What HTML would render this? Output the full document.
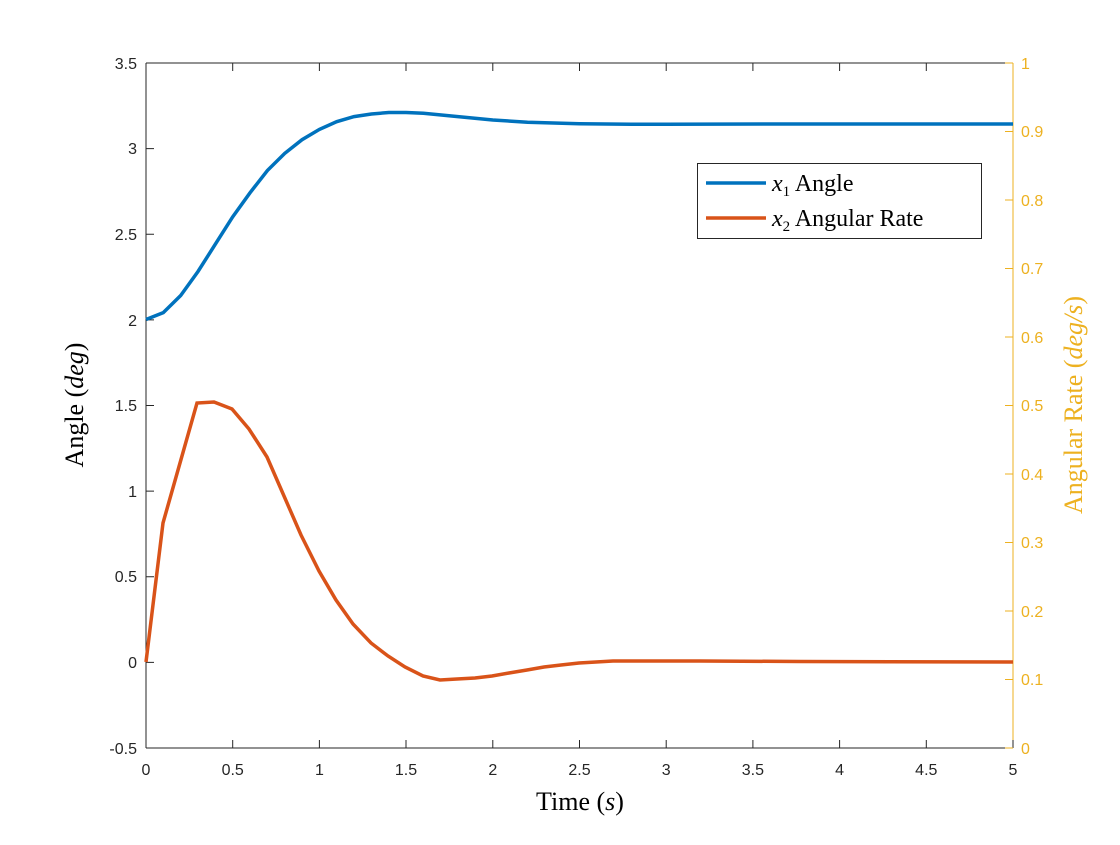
<!DOCTYPE html>
<html><head><meta charset="utf-8"><style>body{margin:0;background:#fff}</style></head><body>
<svg width="1120" height="840" xmlns="http://www.w3.org/2000/svg" font-family="Liberation Sans, sans-serif">
<rect width="1120" height="840" fill="#fff"/>
<g stroke="#262626" stroke-width="1" fill="none">
<line x1="146" y1="63" x2="146" y2="748"/>
<line x1="146" y1="748" x2="1013" y2="748"/>
<line x1="146" y1="63" x2="1013" y2="63"/>
</g>
<line x1="1013" y1="63" x2="1013" y2="748" stroke="#EDB120" stroke-width="1"/>
<g stroke="#262626" stroke-width="1">
<path d="M146,748v-8M232.7,748v-8M319.4,748v-8M406,748v-8M492.8,748v-8M579.5,748v-8M666.2,748v-8M752.9,748v-8M839.6,748v-8M926.3,748v-8M1013,748v-8
M146,63v8M232.7,63v8M319.4,63v8M406,63v8M492.8,63v8M579.5,63v8M666.2,63v8M752.9,63v8M839.6,63v8M926.3,63v8
M146,63h8M146,148.6h8M146,234.2h8M146,319.9h8M146,405.5h8M146,491.1h8M146,576.8h8M146,662.4h8"/>
</g>
<g stroke="#EDB120" stroke-width="1">
<path d="M1013,63h-8M1013,131.5h-8M1013,200h-8M1013,268.5h-8M1013,337h-8M1013,405.5h-8M1013,474h-8M1013,542.5h-8M1013,611h-8M1013,679.5h-8M1013,748h-8"/>
</g>
<g font-size="16" fill="#262626" text-anchor="end">
<text x="137" y="69">3.5</text><text x="137" y="154">3</text><text x="137" y="240">2.5</text><text x="137" y="326">2</text><text x="137" y="411">1.5</text><text x="137" y="497">1</text><text x="137" y="582">0.5</text><text x="137" y="668">0</text><text x="137" y="754">-0.5</text>
</g>
<g font-size="16" fill="#262626" text-anchor="middle">
<text x="146" y="775">0</text><text x="232.7" y="775">0.5</text><text x="319.4" y="775">1</text><text x="406" y="775">1.5</text><text x="492.8" y="775">2</text><text x="579.5" y="775">2.5</text><text x="666.2" y="775">3</text><text x="752.9" y="775">3.5</text><text x="839.6" y="775">4</text><text x="926.3" y="775">4.5</text><text x="1013" y="775">5</text>
</g>
<g font-size="16" fill="#EDB120">
<text x="1021" y="69">1</text><text x="1021" y="137">0.9</text><text x="1021" y="206">0.8</text><text x="1021" y="274">0.7</text><text x="1021" y="343">0.6</text><text x="1021" y="411">0.5</text><text x="1021" y="480">0.4</text><text x="1021" y="548">0.3</text><text x="1021" y="617">0.2</text><text x="1021" y="685">0.1</text><text x="1021" y="754">0</text>
</g>
<text x="580" y="810" font-family="Liberation Serif, serif" font-size="26" text-anchor="middle" fill="#000">Time (<tspan font-style="italic">s</tspan>)</text>
<text transform="translate(83,405) rotate(-90)" font-family="Liberation Serif, serif" font-size="26" text-anchor="middle" fill="#000">Angle (<tspan font-style="italic">deg</tspan>)</text>
<text transform="translate(1082,405) rotate(-90)" font-family="Liberation Serif, serif" font-size="26" text-anchor="middle" fill="#EDB120">Angular Rate (<tspan font-style="italic">deg/s</tspan>)</text>
<polyline fill="none" stroke="#0072BD" stroke-width="3.5" points="146,319.5 163.3,312.6 180.7,295.5 198,271.5 215.4,244.1 232.7,216.8 250,192.8 267.4,170.5 284.7,153.4 302,139.7 319.4,129.4 336.7,121.7 354,116.6 371.4,114 388.8,112.5 406,112.5 423.4,113.3 458,116.6 492.8,120 527.5,122.2 579.5,123.8 631.5,124.3 666,124.2 800,124 1013,124"/>
<polyline fill="none" stroke="#D95319" stroke-width="3.5" points="146,662 163,523 180,463 197,403 214,402 232,409 249,429 267,457 284,496 301,535 319,571 336,600 353,624 371,643 388,656 405,667 423,676 440,680 457,679 475,678 492,676 509,673 527,670 544,667 561,665 579,663 596,662 613,661 630,661 700,661 800,661.5 1013,662"/>
<rect x="697.5" y="163.5" width="284" height="75" fill="#fff" stroke="#262626" stroke-width="1"/>
<line x1="706" y1="183" x2="766" y2="183" stroke="#0072BD" stroke-width="3.5"/>
<line x1="706" y1="218" x2="766" y2="218" stroke="#D95319" stroke-width="3.5"/>
<g font-family="Liberation Serif, serif" font-size="24" fill="#000">
<text x="772" y="191"><tspan font-style="italic">x</tspan><tspan font-size="15" dy="5">1</tspan><tspan dy="-5"> Angle</tspan></text>
<text x="772" y="226"><tspan font-style="italic">x</tspan><tspan font-size="15" dy="5">2</tspan><tspan dy="-5"> Angular Rate</tspan></text>
</g>
</svg>
</body></html>
